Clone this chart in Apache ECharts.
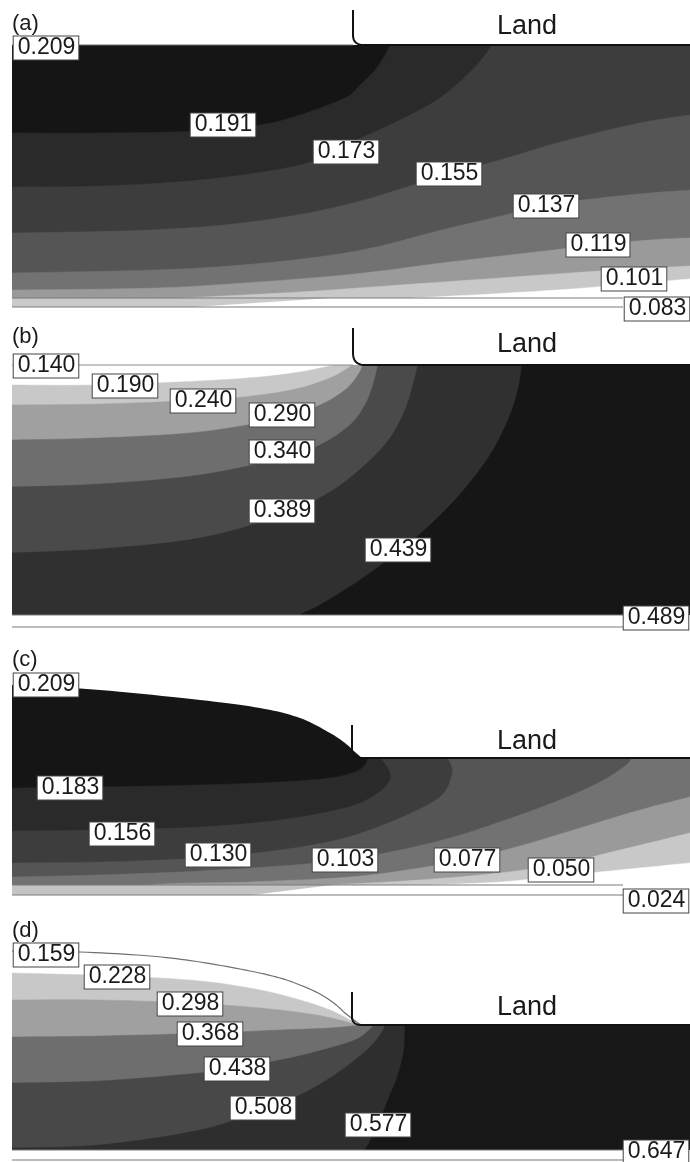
<!DOCTYPE html>
<html><head><meta charset="utf-8">
<script src="https://cdn.jsdelivr.net/npm/echarts@6/dist/echarts.min.js"></script>
<style>html,body{margin:0;padding:0;background:#fff}#chart{width:690px;height:1162px}</style>
</head><body><div id="chart"></div>
<script>
// ---------- DATA (distance along x, depth below land level) ----------
const panelLetters = ['(a)', '(b)', '(c)', '(d)'];
const landWord = 'Land';

// Panel (a)
const aValues = ['0.209','0.191','0.173','0.155','0.137','0.119','0.101','0.083'];
const aAnchors = [[34,3],[211,80],[334,107],[437,129],[534,161],[586,200],[622,234],[645,264]];
const aSurface = [[0,0],[341,0]];
const aIso1 = [[0,88],[88,88],[188,86],[248,80],[288,70],[333,53],[348,40],[363,25],[373,10],[378,0]];
const aIso2 = [[0,142],[88,141],[188,135],[288,120],[333,100],[388,75],[428,53],[458,27],[473,10],[480,0]];
const aIso3 = [[0,188],[138,185],[238,177],[333,160],[437,129],[488,115],[538,100],[588,87],[638,76],[678,70]];
const aIso4 = [[0,228],[188,223],[333,208],[438,183],[534,161],[588,153],[638,148],[678,145]];
const aIso5 = [[0,245],[100,244],[188,241],[333,230],[438,217],[586,200],[638,195],[678,193]];
const aIso6 = [[170,253],[288,247],[388,240],[488,233],[588,226],[678,221]];
const aIso7 = [[400,253],[480,249],[560,244],[630,238],[678,234]];
const aLand = [[341,-35],[341,-10],[341,0],[352,0],[678,0]];
const aBed = [253, 262];
const aStripShade = [320, 180];

// Panel (b)
const bValues = ['0.140','0.190','0.240','0.290','0.340','0.389','0.439','0.489'];
const bAnchors = [[34,1],[113,21],[191,36],[270,50],[270,87],[270,146],[386,185],[644,253]];
const bSurface = [[0,0],[341,0]];
const bIso1 = [[0,20],[88,20],[188,16],[248,12],[288,7],[313,2],[323,0]];
const bIso2 = [[0,40],[88,39],[191,35],[248,30],[288,23],[318,13],[333,5],[340,0]];
const bIso3 = [[0,75],[88,73],[188,67],[270,53],[308,40],[333,25],[346,10],[351,0]];
const bIso4 = [[0,122],[88,119],[188,110],[270,93],[308,80],[338,60],[353,40],[361,20],[366,0]];
const bIso5 = [[0,188],[88,184],[188,173],[270,150],[318,127],[353,100],[378,73],[393,45],[401,20],[406,0]];
const bIso6 = [[276,262],[288,250],[308,240],[348,215],[386,187],[418,160],[450,127],[478,90],[496,55],[506,25],[510,0]];
const bLand = [[341,-37],[341,-12],[341,0],[353,0],[678,0]];
const bBed = [250, 262];
const bStripShade = [0, 0];

// Panel (c)
const cValues = ['0.209','0.183','0.156','0.130','0.103','0.077','0.050','0.024'];
const cAnchors = [[34,-73],[58,30],[110,76],[206,97],[333,102],[455,102],[549,112],[644,143]];
const cSurface = [[0,-73],[88,-68],[188,-58],[248,-50],[288,-40],[318,-25],[333,-15],[343,-6],[350,0]];
const cIso1 = [[0,30],[88,29],[188,27],[268,24],[318,20],[343,14],[353,7],[356,0]];
const cIso2 = [[0,73],[88,72],[188,69],[268,62],[333,50],[363,37],[378,22],[376,10],[368,0]];
const cIso3 = [[0,105],[88,104],[188,100],[268,92],[333,80],[388,60],[428,39],[440,17],[438,4],[434,0]];
const cIso4 = [[0,119],[88,117],[188,113],[268,108],[333,102],[388,92],[438,80],[488,64],[548,42],[588,24],[613,8],[620,0]];
const cIso5 = [[60,140],[138,127],[238,124],[338,119],[408,110],[455,101],[508,88],[568,70],[628,52],[678,39]];
const cIso6 = [[318,127],[408,122],[488,115],[549,106],[608,92],[678,75]];
const cIso7 = [[418,127],[488,124],[549,118],[608,112],[678,105]];
const cLand = [[340,-33],[340,-8],[340,0],[350,0],[678,0]];
const cBed = [127, 137];
const cStripShade = [320, 240];

// Panel (d)
const dValues = ['0.159','0.228','0.298','0.368','0.438','0.508','0.577','0.647'];
const dAnchors = [[34,-70],[105,-48],[178,-21],[198,9],[225,44],[251,83],[366,100],[644,127]];
const dSurface = [[0,-74],[68,-73],[138,-69],[188,-63],[238,-54],[268,-47],[288,-40],[308,-31],[323,-21],[333,-12],[342,-5],[349,0]];
const dIso1 = [[0,-52],[105,-49],[188,-44],[248,-35],[288,-25],[318,-15],[338,-5],[346,0]];
const dIso2 = [[0,-25],[88,-25],[178,-22],[248,-17],[298,-11],[328,-5],[342,-1],[350,0]];
const dIso3 = [[0,12],[88,11],[198,8],[268,5],[318,3],[340,1],[355,0]];
const dIso4 = [[0,58],[88,56],[188,48],[225,43],[278,33],[318,23],[343,15],[355,7],[362,0]];
const dIso5 = [[0,123],[88,120],[188,105],[251,85],[288,70],[318,53],[343,35],[360,20],[370,7],[373,0]];
const dIso6 = [[350,140],[353,125],[356,120],[366,100],[376,75],[386,50],[392,25],[393,0]];
const dLand = [[340,-33],[340,-8],[340,0],[350,0],[678,0]];
const dBed = [125, 135];
const dStripShade = [0, 0];

// ---------- STYLE ----------
const FONT = '"Liberation Sans", Arial, Helvetica, sans-serif';
const darkToLight = ['#151515','#2a2a2a','#3d3d3d','#555555','#727272','#9a9a9a','#c8c8c8','#ffffff'];
const lightToDark = ['#ffffff','#c8c8c8','#a0a0a0','#6e6e6e','#4a4a4a','#303030','#161616'];
const lightToDarkD = ['#ffffff','#c8c8c8','#a0a0a0','#6e6e6e','#484848','#2e2e2e','#171717'];

const panels = [
  {grid:{left:12, top:5, width:678, height:302}, y:[-40,262], values:aValues, anchors:aAnchors,
   surface:aSurface, isos:[aIso1,aIso2,aIso3,aIso4,aIso5,aIso6,aIso7], colors:darkToLight,
   land:aLand, bed:aBed, shade:aStripShade, shadeColor:'#cacaca', surfLine:'#6a6a6a', letterY:24, landY:27},
  {grid:{left:12, top:325, width:678, height:302}, y:[-40,262], values:bValues, anchors:bAnchors,
   surface:bSurface, isos:[bIso1,bIso2,bIso3,bIso4,bIso5,bIso6], colors:lightToDark,
   land:bLand, bed:bBed, shade:bStripShade, shadeColor:'#ffffff', surfLine:'#8a8a8a', letterY:337, landY:345},
  {grid:{left:12, top:678, width:678, height:217}, y:[-80,137], values:cValues, anchors:cAnchors,
   surface:cSurface, isos:[cIso1,cIso2,cIso3,cIso4,cIso5,cIso6,cIso7], colors:darkToLight,
   land:cLand, bed:cBed, shade:cStripShade, shadeColor:'#c4c4c4', surfLine:null, letterY:660, landY:742},
  {grid:{left:12, top:945, width:678, height:215}, y:[-80,135], values:dValues, anchors:dAnchors,
   surface:dSurface, isos:[dIso1,dIso2,dIso3,dIso4,dIso5,dIso6], colors:lightToDarkD,
   land:dLand, bed:dBed, shade:dStripShade, shadeColor:'#ffffff', surfLine:'#707070', letterY:931, landY:1008}
];
const XMAX = 678, PAD = 500;

// Catmull-Rom smoothing of pixel points (rendering only)
function smoothPx(pts, n) {
  n = n || 10;
  if (pts.length < 3) return pts.slice();
  const out = [];
  for (let i = 0; i < pts.length - 1; i++) {
    const p0 = pts[Math.max(i - 1, 0)], p1 = pts[i], p2 = pts[i + 1], p3 = pts[Math.min(i + 2, pts.length - 1)];
    for (let t = 0; t < n; t++) {
      const s = t / n, s2 = s * s, s3 = s2 * s;
      const f = k => 0.5 * (2 * p1[k] + (-p0[k] + p2[k]) * s + (2 * p0[k] - 5 * p1[k] + 4 * p2[k] - p3[k]) * s2 + (-p0[k] + 3 * p1[k] - 3 * p2[k] + p3[k]) * s3);
      out.push([f(0), f(1)]);
    }
  }
  out.push(pts[pts.length - 1]);
  return out;
}
function clipRect(params) {
  const c = params.coordSys;
  return {type:'rect', shape:{x:c.x, y:c.y, width:c.width, height:c.height}};
}

const series = [];
panels.forEach((P, gi) => {
  const y0 = P.y[0], y1 = P.y[1];
  // contour bands (painter's order)
  series.push({
    type:'custom', xAxisIndex:gi, yAxisIndex:gi, clip:true, silent:true, z:1,
    data: P.colors.slice(0, P.isos.length + 1).map((c, i) => [i, 0]),
    renderItem: (params, api) => {
      const i = api.value(0);
      const C = p => api.coord(p);
      let pts;
      if (i === 0) {
        pts = [[-PAD, y0 - PAD], [XMAX + PAD, y0 - PAD], [XMAX + PAD, y1 + PAD], [-PAD, y1 + PAD]].map(C);
      } else {
        const cv = P.isos[i - 1];
        const first = cv[0];
        const tail = [[XMAX + PAD, y0 - PAD], [XMAX + PAD, y1 + PAD]];
        if (first[0] <= 0) tail.push([-PAD, y1 + PAD], [-PAD, first[1]]);
        else tail.push([first[0], y1 + PAD]);
        pts = smoothPx(cv.map(C)).concat(tail.map(C));
      }
      return {type:'group', clipPath: clipRect(params),
        children:[{type:'polygon', shape:{points:pts}, style:{fill:P.colors[i], stroke:P.colors[i], lineWidth:0.5}}]};
    }
  });
  // air above water surface / land, and bottom strip
  series.push({
    type:'custom', xAxisIndex:gi, yAxisIndex:gi, clip:true, silent:true, z:2,
    data:[[0,0],[1,0],[2,0]],
    renderItem: (params, api) => {
      const k = api.value(0);
      const C = p => api.coord(p);
      let pts, fill;
      if (k === 0) {
        const s = P.surface;
        pts = smoothPx(s.map(C)).concat([[XMAX + PAD, 0], [XMAX + PAD, y0 - PAD], [-PAD, y0 - PAD], [-PAD, s[0][1]]].map(C));
        fill = '#ffffff';
      } else if (k === 1) {
        pts = [[-PAD, P.bed[0]], [XMAX + PAD, P.bed[0]], [XMAX + PAD, y1 + PAD], [-PAD, y1 + PAD]].map(C);
        fill = '#ffffff';
      } else {
        pts = [[-PAD, P.bed[0]], [P.shade[0], P.bed[0]], [P.shade[1], P.bed[1]], [-PAD, P.bed[1]]].map(C);
        fill = P.shadeColor;
      }
      return {type:'group', clipPath: clipRect(params),
        children:[{type:'polygon', shape:{points:pts}, style:{fill:fill}}]};
    }
  });
  // outlines: surface, bed lines, land
  series.push({
    type:'custom', xAxisIndex:gi, yAxisIndex:gi, clip:false, silent:true, z:3,
    data:[[0,0],[1,0],[2,0],[3,0]],
    renderItem: (params, api) => {
      const k = api.value(0);
      const C = p => api.coord(p);
      if (k === 0) {
        if (!P.surfLine) return null;
        return {type:'polyline', shape:{points:smoothPx(P.surface.map(C))}, style:{stroke:P.surfLine, lineWidth:1.2, fill:null}};
      }
      if (k === 1 || k === 2) {
        const d = P.bed[k - 1];
        return {type:'polyline', shape:{points:[C([0, d]), C([611, d])]}, style:{stroke:'#7a7a7a', lineWidth:1.2, fill:null}};
      }
      const L = P.land.map(C);
      const pts = [L[0], L[1]];
      for (let t = 1; t <= 12; t++) {
        const s = t / 12, u = 1 - s;
        pts.push([u*u*L[1][0] + 2*u*s*L[2][0] + s*s*L[3][0], u*u*L[1][1] + 2*u*s*L[2][1] + s*s*L[3][1]]);
      }
      pts.push(L[4]);
      return {type:'polyline', shape:{points:pts}, style:{stroke:'#111111', lineWidth:2, fill:null}};
    }
  });
  // contour value labels
  series.push({
    type:'scatter', xAxisIndex:gi, yAxisIndex:gi, symbolSize:0, silent:true, z:10, clip:false,
    itemStyle:{opacity:1},
    data: P.values.map((v, i) => ({name:v, value:P.anchors[i]})),
    label:{show:true, position:'inside', formatter:'{b}', fontSize:23, fontFamily:FONT, color:'#1a1a1a', opacity:1,
      backgroundColor:'#ffffff', borderColor:'#444444', borderWidth:1, padding:[1,3,0,4], lineHeight:22}
  });
});

const graphic = [];
panels.forEach((P, gi) => {
  graphic.push({type:'text', x:12, y:P.letterY, z:20, style:{text:panelLetters[gi], font:'22px ' + FONT, fill:'#1a1a1a', align:'left', verticalAlign:'middle'}});
  graphic.push({type:'text', x:527, y:P.landY, z:20, style:{text:landWord, font:'27px ' + FONT, fill:'#1a1a1a', align:'center', verticalAlign:'middle'}});
});

const option = {
  animation:false,
  backgroundColor:'#ffffff',
  grid: panels.map(P => P.grid),
  xAxis: panels.map((P, i) => ({type:'value', gridIndex:i, min:0, max:XMAX, show:false})),
  yAxis: panels.map((P, i) => ({type:'value', gridIndex:i, min:P.y[0], max:P.y[1], inverse:true, show:false})),
  series: series,
  graphic: graphic
};
const chart = echarts.init(document.getElementById('chart'));
chart.setOption(option);
</script></body></html>
